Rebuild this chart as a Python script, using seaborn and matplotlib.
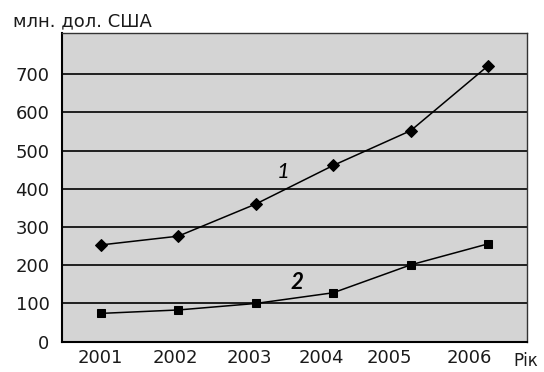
import matplotlib
matplotlib.use("Agg")
import matplotlib.pyplot as plt
import seaborn as sns
import pandas as pd

years = ["2001", "2002", "2003", "2004", "2005", "2006"]
series_1 = [253, 276, 360, 461, 552, 722]
series_2 = [74, 83, 100, 128, 201, 256]
y_ticks = [0, 100, 200, 300, 400, 500, 600, 700]
y_label = "млн. дол. США"
x_label = "Рік"

sns.set_theme(style="white")
plt.rcParams["font.family"] = ["DejaVu Sans"]

fig = plt.figure(figsize=(5.44, 3.72), dpi=100)
ax = fig.add_axes([62 / 544, 1 - 341.7 / 372, 465 / 544, 308.2 / 372])
ax.set_facecolor("#d4d4d4")

idx = list(range(len(years)))
df1 = pd.DataFrame({"x": idx, "y": series_1})
df2 = pd.DataFrame({"x": idx, "y": series_2})

for y in y_ticks[1:]:
    ax.axhline(y, color="black", lw=1.2, zorder=1)

sns.lineplot(data=df1, x="x", y="y", ax=ax, color="black", lw=1.1,
             marker="D", markersize=6.5, markeredgecolor="black", zorder=3)
sns.lineplot(data=df2, x="x", y="y", ax=ax, color="black", lw=1.1,
             marker="s", markersize=5.5, markeredgecolor="black", zorder=3)

ax.set_xlim(-0.5, len(years) - 0.5)
ax.set_ylim(0, 806)

tick_font = dict(fontsize=13, color="#1a1a1a")

ax.set_yticks(y_ticks)
ax.set_yticklabels([str(v) for v in y_ticks], **tick_font)
ax.tick_params(axis="y", direction="out", length=7, width=1.3, color="black", pad=2)

# category boundaries carry the tick marks
ax.set_xticks([i - 0.5 for i in range(len(years) + 1)])
ax.set_xticklabels([])
ax.tick_params(axis="x", which="major", direction="inout", length=11, width=1.3, color="black")

# year labels sit slightly left of the category centres
label_pos = [0.0, 0.96, 1.92, 2.85, 3.73, 4.76]
ax.set_xticks(label_pos, minor=True)
ax.set_xticklabels(years, minor=True, **tick_font)
ax.tick_params(axis="x", which="minor", length=0, pad=5)

ax.set_xlabel("")
ax.set_ylabel("")

for side in ["left", "bottom"]:
    ax.spines[side].set_color("black")
    ax.spines[side].set_linewidth(1.5)
for side in ["top", "right"]:
    ax.spines[side].set_color("#333333")
    ax.spines[side].set_linewidth(1.0)

ax.text(2.35, 445, "1", fontsize=16, style="italic", family="Lato",
        ha="center", va="center", color="black")
ax.text(2.53, 156, "2", fontsize=16, style="italic", fontweight="bold", family="Lato",
        ha="center", va="center", color="black")

fig.text(13 / 544, 1 - 21 / 372, y_label, fontsize=13, ha="left", va="center", color="#1a1a1a")
fig.text(513 / 544, 1 - 361 / 372, x_label, fontsize=12, ha="left", va="center", color="#1a1a1a")

fig.savefig("out.png", dpi=100)
